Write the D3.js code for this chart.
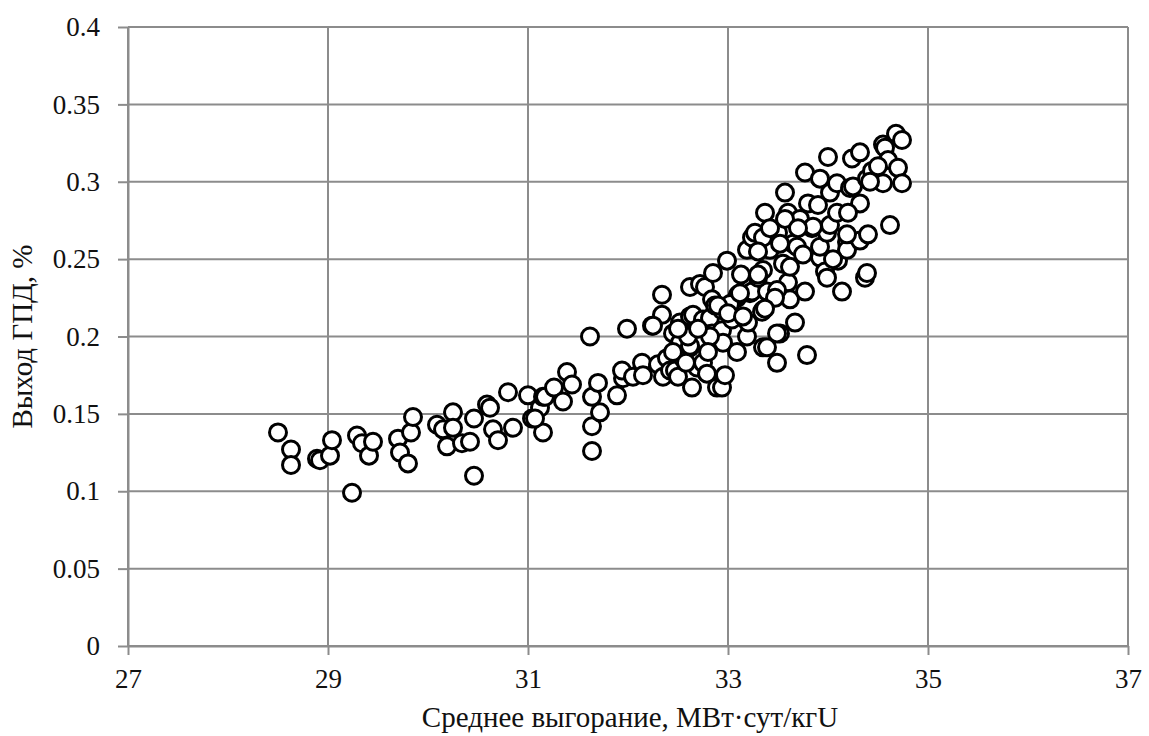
<!DOCTYPE html>
<html>
<head>
<meta charset="utf-8">
<script src="https://cdn.jsdelivr.net/npm/d3@7"></script>
<style>
  body { margin: 0; background: #fff; }
  text { font-family: "Liberation Serif", "Times New Roman", serif; fill: #111; }
</style>
</head>
<body>
<svg id="chart" width="1149" height="736"></svg>
<script>
// burnup, MW*day/kgU
const burnup = [
  28.50, 28.63, 28.63, 28.89, 28.92, 29.02, 29.04, 29.24, 29.29, 29.34,
  29.41, 29.45, 29.70, 29.72, 29.80, 29.83, 29.85, 30.09, 30.15, 30.19,
  30.25, 30.25, 30.34, 30.42, 30.46, 30.46, 30.59, 30.62, 30.65, 30.70,
  30.80, 30.85, 31.00, 31.04, 31.12, 31.15, 31.15, 31.17, 31.26, 31.35,
  31.39, 31.44, 31.62, 31.64, 31.64, 31.64, 31.70, 31.72, 31.89, 31.95,
  31.94, 31.99, 32.05, 32.14, 32.15, 32.24, 32.30, 32.34, 32.34, 32.35,
  32.39, 32.42, 32.45, 32.47, 32.50, 32.52, 32.52, 32.55, 32.62, 32.62,
  32.62, 32.64, 32.65, 32.69, 32.72, 32.75, 32.75, 32.77, 32.79, 32.82,
  32.84, 32.84, 32.85, 32.87, 32.89, 32.94, 32.94, 32.94, 32.97, 32.95,
  32.99, 33.04, 33.09, 33.09, 33.10, 33.19, 33.19, 33.20, 33.22, 33.24,
  33.24, 33.35, 33.35, 33.35, 33.34, 33.37, 33.39, 33.42, 33.49, 33.50,
  33.52, 33.55, 33.57, 33.60, 33.60, 33.62, 33.65, 33.67, 33.69, 33.72,
  33.75, 33.77, 33.77, 33.79, 33.80, 33.84, 33.92, 33.92, 33.92, 33.97,
  33.99, 33.99, 34.00, 34.02, 34.02, 34.09, 34.09, 34.10, 34.14, 34.19,
  34.19, 34.22, 34.24, 34.25, 34.32, 34.32, 34.32, 34.37, 34.39, 34.40,
  34.44, 34.49, 34.55, 34.55, 34.57, 34.60, 34.62, 34.68, 34.70, 34.74,
  34.74, 33.49, 33.47, 33.37, 33.39, 33.27, 33.35, 34.39, 34.19, 33.85,
  33.57, 32.82, 33.49, 32.62, 32.25, 32.45, 33.02, 33.13, 33.30, 31.07,
  32.60, 32.70, 32.90, 33.00, 33.12, 33.30, 33.42, 33.52, 33.70, 33.90,
  34.05, 34.20, 34.42, 34.50, 33.62, 33.30, 32.50, 32.80, 32.58, 33.15
];
// fission gas release, %
const release = [
  0.138, 0.127, 0.117, 0.121, 0.120, 0.123, 0.133, 0.099, 0.136, 0.131,
  0.123, 0.132, 0.134, 0.125, 0.118, 0.138, 0.148, 0.143, 0.140, 0.129,
  0.151, 0.141, 0.131, 0.132, 0.110, 0.147, 0.156, 0.154, 0.140, 0.133,
  0.164, 0.141, 0.162, 0.147, 0.154, 0.161, 0.138, 0.161, 0.167, 0.158,
  0.177, 0.169, 0.200, 0.161, 0.142, 0.126, 0.170, 0.151, 0.162, 0.173,
  0.178, 0.205, 0.174, 0.183, 0.175, 0.207, 0.182, 0.214, 0.227, 0.174,
  0.186, 0.178, 0.202, 0.178, 0.174, 0.196, 0.209, 0.186, 0.193, 0.213,
  0.232, 0.167, 0.214, 0.180, 0.234, 0.183, 0.211, 0.232, 0.176, 0.212,
  0.202, 0.224, 0.241, 0.220, 0.167, 0.167, 0.204, 0.217, 0.175, 0.196,
  0.249, 0.211, 0.190, 0.225, 0.227, 0.200, 0.256, 0.209, 0.228, 0.264,
  0.229, 0.193, 0.217, 0.243, 0.216, 0.280, 0.229, 0.256, 0.183, 0.267,
  0.202, 0.247, 0.293, 0.235, 0.280, 0.224, 0.260, 0.209, 0.258, 0.276,
  0.253, 0.306, 0.229, 0.188, 0.286, 0.270, 0.302, 0.251, 0.258, 0.242,
  0.267, 0.238, 0.316, 0.272, 0.293, 0.299, 0.280, 0.249, 0.229, 0.261,
  0.256, 0.296, 0.315, 0.297, 0.319, 0.286, 0.262, 0.238, 0.302, 0.266,
  0.307, 0.301, 0.324, 0.299, 0.322, 0.314, 0.272, 0.331, 0.309, 0.327,
  0.299, 0.230, 0.225, 0.218, 0.193, 0.267, 0.264, 0.241, 0.266, 0.271,
  0.276, 0.200, 0.202, 0.194, 0.207, 0.190, 0.221, 0.240, 0.238, 0.147,
  0.200, 0.205, 0.220, 0.215, 0.228, 0.255, 0.270, 0.260, 0.270, 0.285,
  0.250, 0.280, 0.300, 0.310, 0.245, 0.240, 0.205, 0.190, 0.183, 0.213
];
const xTicks = [27, 29, 31, 33, 35, 37];
const yTicks = [0, 0.05, 0.1, 0.15, 0.2, 0.25, 0.3, 0.35, 0.4];
const xTitle = "Среднее выгорание, МВт·сут/кгU";
const yTitle = "Выход ГПД, %";

const svg = d3.select("#chart");
const mLeft = 128, mRight = 1128, mTop = 27, mBottom = 646;

const x = d3.scaleLinear().domain([27, 37]).range([mLeft, mRight]);
const y = d3.scaleLinear().domain([0, 0.4]).range([mBottom, mTop]);

const gridColor = "#8c8c8c";

// grid lines
svg.append("g").selectAll("line.hgrid")
  .data(yTicks).enter().append("line")
  .attr("x1", mLeft).attr("x2", mRight)
  .attr("y1", d => y(d)).attr("y2", d => y(d))
  .attr("stroke", gridColor).attr("stroke-width", 2);

svg.append("g").selectAll("line.vgrid")
  .data(xTicks).enter().append("line")
  .attr("x1", d => x(d)).attr("x2", d => x(d))
  .attr("y1", mTop).attr("y2", mBottom)
  .attr("stroke", gridColor).attr("stroke-width", 2);

// axes
const xAxis = svg.append("g")
  .attr("transform", `translate(0,${mBottom})`)
  .call(d3.axisBottom(x).tickValues(xTicks).tickSize(9).tickSizeOuter(0).tickPadding(14).tickFormat(d3.format("d")));
const yAxis = svg.append("g")
  .attr("transform", `translate(${mLeft},0)`)
  .call(d3.axisLeft(y).tickValues(yTicks).tickSize(10).tickSizeOuter(0).tickPadding(18).tickFormat(d => d === 0 ? "0" : String(+d.toFixed(2))));

[xAxis, yAxis].forEach(a => {
  a.select(".domain").attr("stroke", gridColor).attr("stroke-width", 2);
  a.selectAll(".tick line").attr("stroke", gridColor).attr("stroke-width", 2);
  a.selectAll(".tick text")
    .style("font-family", '"Liberation Serif", serif')
    .style("font-size", "27px")
    .attr("fill", "#111");
});
xAxis.selectAll(".tick text").attr("dy", "0.71em");
yAxis.selectAll(".tick text").attr("dy", "0.32em");

// points
svg.append("g").selectAll("circle")
  .data(burnup.map((b, i) => [b, release[i]]))
  .enter().append("circle")
  .attr("cx", d => x(d[0]))
  .attr("cy", d => y(d[1]))
  .attr("r", 8.5)
  .attr("fill", "#fff")
  .attr("stroke", "#000")
  .attr("stroke-width", 3);

// titles
svg.append("text")
  .attr("x", (mLeft + mRight) / 2 + 2).attr("y", 727)
  .attr("text-anchor", "middle")
  .style("font-size", "29px")
  .text(xTitle);

svg.append("text")
  .attr("transform", `translate(32,${(mTop + mBottom) / 2}) rotate(-90)`)
  .attr("text-anchor", "middle")
  .style("font-size", "29px")
  .text(yTitle);
</script>
</body>
</html>
